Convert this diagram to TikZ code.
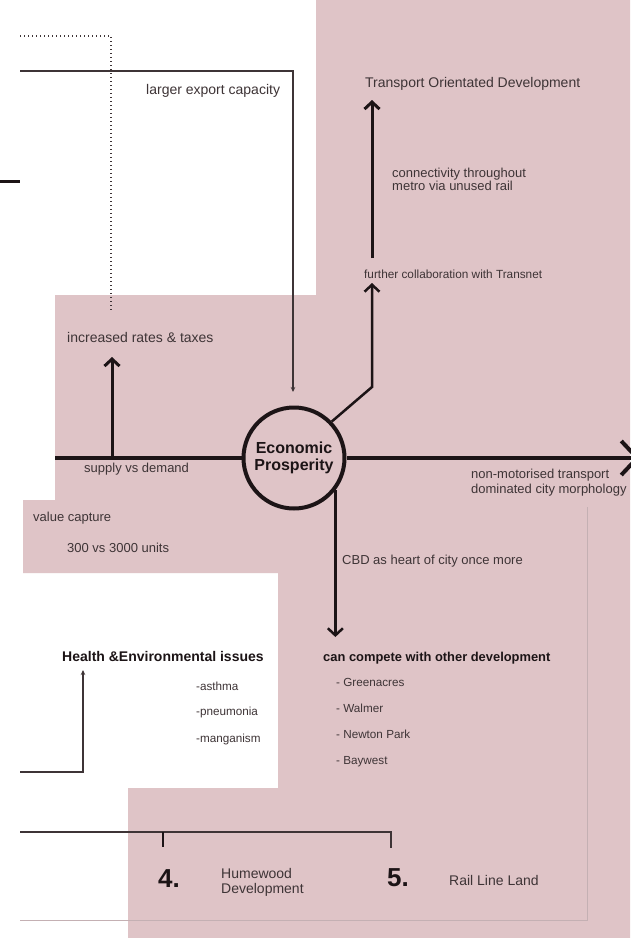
\documentclass[tikz,border=0pt]{standalone}
\usepackage{fontspec}
\setmainfont{Liberation Sans}
\usetikzlibrary{arrows.meta,positioning}
\definecolor{rose}{RGB}{223,196,199}
\definecolor{ink}{RGB}{62,52,54}
\definecolor{dark}{RGB}{28,20,22}
\definecolor{frame}{RGB}{196,176,179}

\begin{document}
\begin{tikzpicture}[x=1pt,y=-1pt,
	every node/.style={inner sep=0,anchor=base west,text=ink},
	txt/.style={font=\fontsize{13}{15}\selectfont},
	big/.style={font=\fontsize{14}{15}\selectfont},
	smalltxt/.style={font=\fontsize{11.7}{13}\selectfont},
	bold/.style={font=\bfseries\fontsize{12.9}{14}\selectfont,text=dark},
	num/.style={font=\bfseries\fontsize{26}{28}\selectfont,text=dark},
	link/.style={draw=ink,line width=1.3pt},
	flow/.style={draw=dark,line width=3pt},
	bigtip/.style={-{Straight Barb[length=7pt,width=15pt]}},
	smalltip/.style={-{Stealth[length=5pt,width=4.5pt]}}]

\fill[white] (0,0) rectangle (630,938);
\useasboundingbox (0,0) rectangle (630,938);
\fill[rose] (316,0) -| (630,938) -| (128,788) -| (278,573) -| (23,500)
	-| (55,295) -| (316,0) -- cycle;
\draw[frame,line width=0.8pt] (20,920) -| (587,507);

\node[circle,draw=dark,line width=4pt,minimum size=101pt,anchor=center,
	align=center,font=\bfseries\fontsize{16}{17}\selectfont,text=dark]
	(ep) at (294,458) {Economic\\Prosperity};

\node[big] (export) at (146,94) {larger export capacity};
\node[big] (tod) at (365,87) {Transport Orientated Development};
\node[txt,align=left,font=\fontsize{13}{13}\selectfont] (metro) at (392,190)
	{connectivity throughout\\metro via unused rail};
\node[font=\fontsize{11.8}{13}\selectfont] (transnet) at (364,278)
	{further collaboration with Transnet};
\node[big] (rates) at (67,342) {increased rates \& taxes};
\node[txt] (supply) at (84,472) {supply vs demand};
\node[txt] (value) at (33,521) {value capture};
\node[txt] (units) at (67,552) {300 vs 3000 units};
\node[txt,align=left] (nmt) at (471,493)
	{non-motorised transport\\dominated city morphology};
\node[txt] (cbd) at (342,564) {CBD as heart of city once more};

\node[bold] (compete) at (323,661) {can compete with other development};
\foreach \y/\t [count=\i] in {686/Greenacres,712/Walmer,738/Newton Park,764/Baywest}
	\node[smalltxt] (area\i) at (336,\y) {- \t};

\node[bold,font=\bfseries\fontsize{14}{15}\selectfont] (health) at (62,661)
	{Health \&Environmental issues};
\foreach \y/\t [count=\i] in {690/asthma,715/pneumonia,742/manganism}
	\node[smalltxt] (ill\i) at (196,\y) {-\t};

\node[num] (four) at (158,887) {4.};
\node[big,align=left] (humewood) at (221,893) {Humewood\\Development};
\node[num] (five) at (387,886) {5.};
\node[big] (rail) at (449,885) {Rail Line Land};

\coordinate (d0) at (20,36);
\coordinate (d1) at (111,312);
\draw[ink,line width=1.3pt,dash pattern=on 1.2pt off 2.8pt] (d0) -| (d1);

\coordinate (x0) at (20,71);
\coordinate (x1) at (293,392);
\draw[link,smalltip] (x0) -| (x1);

\coordinate (s0) at (0,181);
\coordinate (s1) at (20,181);
\draw[flow] (s0) -- (s1);

\coordinate (m0) at (55,458);
\coordinate (m1) at (640,458);
\draw[flow,line width=4pt] (m0) -- (ep);
\draw[flow,line width=4pt,-{Straight Barb[length=16pt,width=34pt]}] (ep) -- (m1);

\coordinate (r0) at (112,458);
\coordinate (r1) at (112,357);
\draw[flow,bigtip] (r0) -- (r1);

\coordinate (t0) at (372,387);
\coordinate (t1) at (372,283);
\coordinate (t2) at (372,258);
\coordinate (t3) at (372,100);
\draw[flow,line width=2.5pt,bigtip] (ep.44) -- (t0) -- (t1);
\draw[flow,bigtip] (t2) -- (t3);

\coordinate (c1) at (335,637);
\draw[flow,line width=2.5pt,bigtip] (ep.-38) -- (ep.-38 |- c1);

\coordinate (h0) at (20,772);
\coordinate (h1) at (83,670);
\draw[link,smalltip] (h0) -| (h1);

\coordinate (b0) at (20,832);
\coordinate (b1) at (391,848);
\coordinate (b2) at (163,832);
\coordinate (b3) at (163,847);
\draw[link] (b0) -| (b1);
\draw[dark,line width=2pt] (b2) -- (b3);
\end{tikzpicture}
\end{document}
